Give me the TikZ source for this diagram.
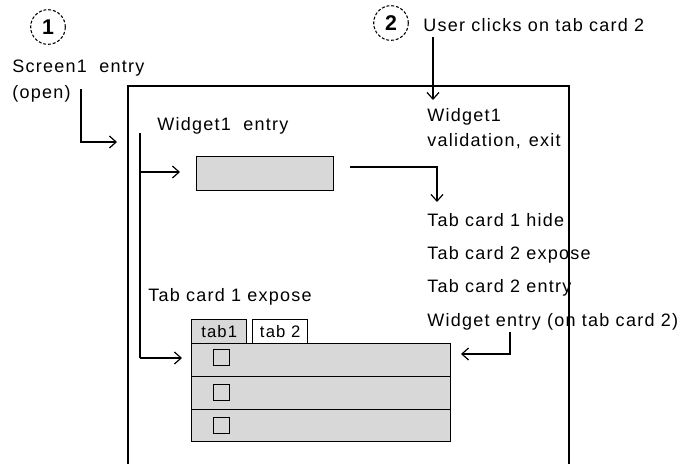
\documentclass[tikz,border=0pt]{standalone}
\usepackage{fontspec}
\setmainfont{Liberation Sans}[LetterSpace=7]
\usetikzlibrary{arrows.meta}
\definecolor{panelgrey}{HTML}{D8D8D8}
\begin{document}
\begin{tikzpicture}[x=0.75pt,y=-0.75pt,
  lbl/.style={anchor=west,inner sep=0pt,font=\fontsize{13.5}{16}\selectfont},
  tablbl/.style={inner sep=0pt,font=\fontsize{12.5}{14}\selectfont},
  flow/.style={line width=1pt,-{Straight Barb[length=5pt,width=9pt,line width=0.9pt]}},
  link/.style={line width=1pt},
  frame/.style={line width=1.1pt},
  panel/.style={draw,line width=1.1pt,fill=panelgrey,inner sep=0pt,anchor=north west},
  tabhead/.style={draw,line width=1.1pt,inner sep=0pt,anchor=north west,minimum width=41.25pt,minimum height=18pt},
  checkbox/.style={draw,line width=1.1pt,inner sep=0pt,anchor=north west,minimum size=12pt},
  num/.style={circle,draw,dash pattern=on 2.2pt off 1.4pt,line width=0.8pt,minimum size=26pt,inner sep=0pt,font=\fontsize{16}{16}\selectfont\bfseries}
]
\useasboundingbox (0,0) rectangle (683,464);

% screen frame, open at the bottom
\draw[frame] (128,470) -- (128,86) -- (569,86) -- (569,470);

% step markers
\node[num] (s1) at (48,27) {1};
\node[num] (s2) at (391,23) {2};

% left-hand texts
\node[lbl] (scr) at (12,68) {Screen1\ \ entry};
\node[lbl] (open) at (12,94) {(open)};
\node[lbl] (wentry) at (157,126) {Widget1\ \ entry};
\node[lbl] (t1exp) at (148,297) {Tab card 1 expose};

% right-hand texts
\node[lbl] (click) at (423,25) {User clicks on tab card 2};
\node[lbl] (wval1) at (427,117) {Widget1};
\node[lbl] (wval2) at (427,141) {validation,\hspace{6pt}exit};
\node[lbl] (t1hide) at (427,220) {Tab card 1 hide};
\node[lbl] (t2exp) at (427,255) {Tab card 2 expose};
\node[lbl] (t2ent) at (427,288) {Tab card 2 entry};
\node[lbl] (went2) at (427,322) {Widget entry (on tab card 2)};

% widget on the first screen
\node[panel,minimum width=102.75pt,minimum height=25.5pt] (wbox) at (196,156) {};

% tab card with its two tab heads and three rows
\node[tabhead,fill=panelgrey] (tab1) at (191,319) {};
\node[tablbl] at (tab1.center) {tab1};
\node[tabhead,fill=white] (tab2) at (252,319) {};
\node[tablbl] at (tab2.center) {tab\ 2};
\node[panel,minimum width=194.25pt,minimum height=24.75pt] (row1) at (191,343) {};
\node[panel,minimum width=194.25pt,minimum height=24.75pt] (row2) at (191,376) {};
\node[panel,minimum width=194.25pt,minimum height=24pt] (row3) at (191,409) {};
\node[checkbox] (cb1) at (213,349) {};
\node[checkbox] (cb2) at (213,384) {};
\node[checkbox] (cb3) at (213,417) {};

% connector end points
\coordinate (a0) at (81,89);
\coordinate (a1) at (117,142);
\coordinate (trunk) at (140,133);
\coordinate (toW) at (180,172);
\coordinate (toT) at (182,358);
\coordinate (b0) at (350,167);
\coordinate (b1) at (437,202);
\coordinate (c0) at (433,37);
\coordinate (c1) at (433,100);
\coordinate (d0) at (510,332);
\coordinate (d1) at (461,354);

% connectors
\draw[flow] (a0) |- (a1);
\draw[link] (trunk) -- (trunk |- toT);
\draw[flow] (trunk |- toW) -- (toW);
\draw[flow] (trunk |- toT) -- (toT);
\draw[flow] (b0) -| (b1);
\draw[flow] (c0) -- (c1);
\draw[flow] (d0) |- (d1);
\end{tikzpicture}
\end{document}
